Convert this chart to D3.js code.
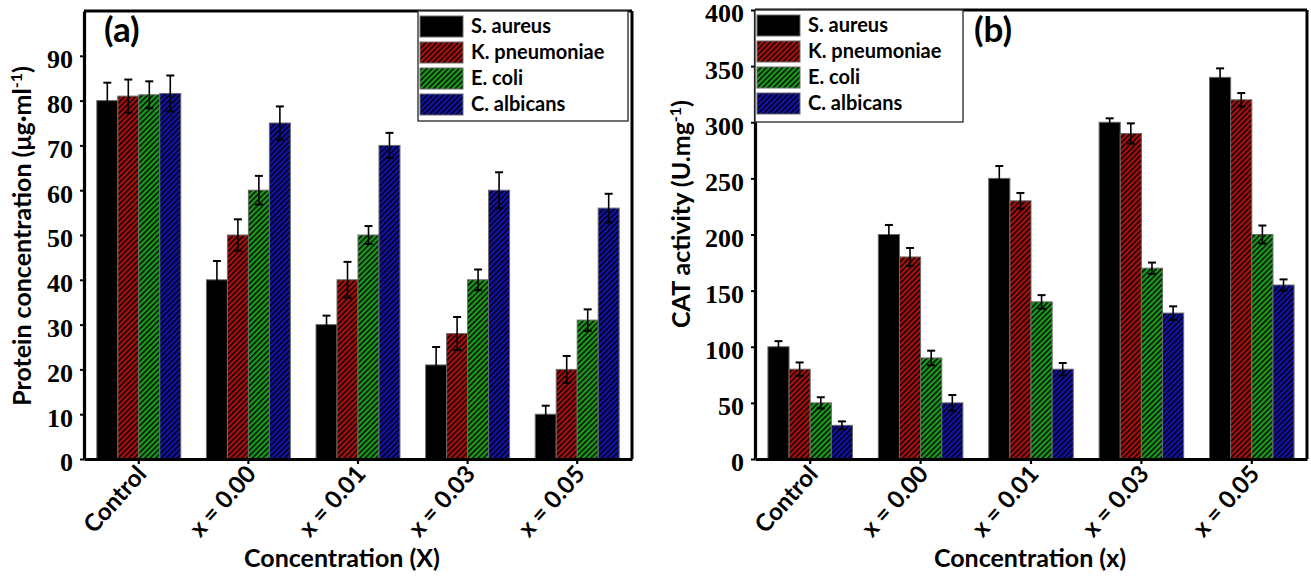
<!DOCTYPE html>
<html>
<head>
<meta charset="utf-8">
<script src="https://cdn.jsdelivr.net/npm/d3@7/dist/d3.min.js"></script>
<style>
  html, body { margin: 0; padding: 0; background: #fff; }
  svg { display: block; }
  .tick-num { font-family: "Liberation Serif", "Times New Roman", serif; font-weight: bold; font-size: 26px; fill: #000; }
  .sans { font-family: Lato, "Open Sans", sans-serif; font-weight: bold; fill: #000; }
</style>
</head>
<body>
<svg id="chart" width="1311" height="576"></svg>
<script>
// Concentration groups and organisms
const categories = ["Control", "x = 0.00", "x = 0.01", "x = 0.03", "x = 0.05"];
const species = ["S. aureus", "K. pneumoniae", "E. coli", "C. albicans"];

// (a) protein concentration, µg/ml (mean and error)
const proteinSAureus      = [80, 40, 30, 21, 10];
const proteinKPneumoniae  = [81, 50, 40, 28, 20];
const proteinEColi        = [81.3, 60, 50, 40, 31];
const proteinCAlbicans    = [81.6, 75, 70, 60, 56];
const proteinErrSAureus     = [4, 4.2, 2, 4, 1.9];
const proteinErrKPneumoniae = [3.7, 3.5, 4, 3.7, 3];
const proteinErrEColi       = [3, 3.2, 2, 2.3, 2.4];
const proteinErrCAlbicans   = [4, 3.7, 2.8, 4, 3.2];
const proteinTicks = [0, 10, 20, 30, 40, 50, 60, 70, 80, 90];

// (b) CAT activity, U/mg (mean and error)
const catSAureus      = [100, 200, 250, 300, 340];
const catKPneumoniae  = [80, 180, 230, 290, 320];
const catEColi        = [50, 90, 140, 170, 200];
const catCAlbicans    = [30, 50, 80, 130, 155];
const catErrSAureus     = [5, 8.5, 11, 3.5, 8];
const catErrKPneumoniae = [6, 8, 7, 9, 6];
const catErrEColi       = [5, 6.5, 6, 5, 8];
const catErrCAlbicans   = [3.5, 7, 5.5, 6, 5];
const catTicks = [0, 50, 100, 150, 200, 250, 300, 350, 400];

const baseColors = ["#000000", "#a8100e", "#1b9a1b", "#1212a8"];
const hatched = [false, true, true, true];

const svg = d3.select("#chart");
const defs = svg.append("defs");

// diagonal "////" hatch over each coloured fill
baseColors.forEach((c, i) => {
  const p = defs.append("pattern")
    .attr("id", "hatch" + i)
    .attr("patternUnits", "userSpaceOnUse")
    .attr("width", 3.8).attr("height", 3.8)
    .attr("patternTransform", "rotate(45)");
  p.append("rect").attr("width", 3.8).attr("height", 3.8).attr("fill", c);
  p.append("line").attr("x1", 0.7).attr("y1", 0).attr("x2", 0.7).attr("y2", 3.8)
    .attr("stroke", "#000").attr("stroke-width", 1.4);
});
const fillFor = i => hatched[i] ? `url(#hatch${i})` : baseColors[i];

function panel(opts) {
  const { left, right, top, bottom, values, errors, domainMax, ticks,
          tag, tagPos, yTitle, ySup, yTitlePos, xTitle, xTitlePos, legend } = opts;

  const g = svg.append("g");

  const x0 = d3.scaleBand().domain(categories).range([left, right])
    .paddingInner(0.234).paddingOuter(0.117);
  const x1 = d3.scaleBand().domain(species).range([0, x0.bandwidth()]);
  const y = d3.scaleLinear().domain([0, domainMax]).range([bottom, top]);

  // bars
  species.forEach((s, si) => {
    g.append("g").selectAll("rect")
      .data(categories)
      .join("rect")
      .attr("x", c => x0(c) + x1(s))
      .attr("y", (c, ci) => y(values[si][ci]))
      .attr("width", x1.bandwidth())
      .attr("height", (c, ci) => y(0) - y(values[si][ci]))
      .attr("fill", fillFor(si))
      .attr("stroke", "#6a6a6a")
      .attr("stroke-width", 1);
  });

  // error bars
  species.forEach((s, si) => {
    const eg = g.append("g").attr("stroke", "#000").attr("stroke-width", 1.6).attr("fill", "none");
    categories.forEach((c, ci) => {
      const cx = x0(c) + x1(s) + x1.bandwidth() / 2;
      const hi = y(values[si][ci] + errors[si][ci]);
      const lo = y(values[si][ci] - errors[si][ci]);
      eg.append("line").attr("x1", cx).attr("x2", cx).attr("y1", hi).attr("y2", lo);
      eg.append("line").attr("x1", cx - 4).attr("x2", cx + 4).attr("y1", hi).attr("y2", hi).attr("stroke-width", 2);
      eg.append("line").attr("x1", cx - 4).attr("x2", cx + 4).attr("y1", lo).attr("y2", lo).attr("stroke-width", 2);
    });
  });

  // frame: top and right
  g.append("line").attr("x1", left).attr("x2", right).attr("y1", top).attr("y2", top)
    .attr("stroke", "#000").attr("stroke-width", 3);
  g.append("line").attr("x1", right).attr("x2", right).attr("y1", top).attr("y2", bottom)
    .attr("stroke", "#000").attr("stroke-width", 3);

  // y axis
  const ya = g.append("g").attr("transform", `translate(${left},0)`)
    .call(d3.axisLeft(y).tickValues(ticks).tickSize(4).tickSizeOuter(0).tickPadding(7));
  ya.select(".domain").attr("stroke-width", 3.2);
  ya.selectAll(".tick line").attr("stroke-width", 2);
  ya.selectAll(".tick text").attr("class", "tick-num").attr("font-size", null).attr("font-family", null)
    .attr("dy", "0.46em");

  // x axis
  const xa = g.append("g").attr("transform", `translate(0,${bottom})`)
    .call(d3.axisBottom(x0).tickSize(5).tickSizeOuter(0));
  xa.select(".domain").attr("stroke-width", 3.2);
  xa.selectAll(".tick line").attr("stroke-width", 2.2);
  xa.selectAll(".tick text")
    .attr("class", "sans")
    .attr("font-size", null).attr("font-family", null)
    .style("font-size", "24px")
    .attr("text-anchor", "end")
    .attr("x", 0).attr("y", 0).attr("dy", null)
    .attr("transform", "translate(9,16) rotate(-48)");

  // axis titles
  const yt = g.append("text").attr("class", "sans").style("font-size", "25px")
    .attr("text-anchor", "middle")
    .attr("transform", `translate(${yTitlePos[0]},${yTitlePos[1]}) rotate(-90)`);
  yt.append("tspan").text(yTitle);
  yt.append("tspan").attr("baseline-shift", "super").style("font-size", "16px").text(ySup);
  yt.append("tspan").text(")");

  g.append("text").attr("class", "sans").style("font-size", "25px")
    .attr("text-anchor", "middle")
    .attr("x", xTitlePos[0]).attr("y", xTitlePos[1])
    .text(xTitle);

  // panel tag
  g.append("text").attr("class", "sans").style("font-size", "35px")
    .attr("x", tagPos[0]).attr("y", tagPos[1]).text(tag);

  // legend
  const lg = g.append("g");
  lg.append("rect").attr("x", legend.x).attr("y", legend.y)
    .attr("width", legend.w).attr("height", legend.h)
    .attr("fill", "#fff").attr("stroke", "#333").attr("stroke-width", 1.4);
  species.forEach((s, si) => {
    const ry = legend.y + 5 + si * 26;
    lg.append("rect").attr("x", legend.x + 2).attr("y", ry)
      .attr("width", 43).attr("height", 21)
      .attr("fill", fillFor(si)).attr("stroke", "#6a6a6a").attr("stroke-width", 1);
    lg.append("text").attr("class", "sans").style("font-size", "20px")
      .attr("x", legend.x + 53).attr("y", ry + 17).text(s);
  });
}

panel({
  left: 84, right: 632, top: 11, bottom: 459,
  values: [proteinSAureus, proteinKPneumoniae, proteinEColi, proteinCAlbicans],
  errors: [proteinErrSAureus, proteinErrKPneumoniae, proteinErrEColi, proteinErrCAlbicans],
  domainMax: 100, ticks: proteinTicks,
  tag: "(a)", tagPos: [104, 42],
  yTitle: "Protein concentration (μg·ml", ySup: "-1", yTitlePos: [31, 236],
  xTitle: "Concentration (X)", xTitlePos: [342, 567],
  legend: { x: 418, y: 11, w: 210, h: 110 }
});

panel({
  left: 755, right: 1307, top: 10, bottom: 459,
  values: [catSAureus, catKPneumoniae, catEColi, catCAlbicans],
  errors: [catErrSAureus, catErrKPneumoniae, catErrEColi, catErrCAlbicans],
  domainMax: 400, ticks: catTicks,
  tag: "(b)", tagPos: [974, 42],
  yTitle: "CAT activity (U.mg", ySup: "-1", yTitlePos: [690, 214],
  xTitle: "Concentration (x)", xTitlePos: [1030, 567],
  legend: { x: 755, y: 10, w: 208, h: 112 }
});
</script>
</body>
</html>
